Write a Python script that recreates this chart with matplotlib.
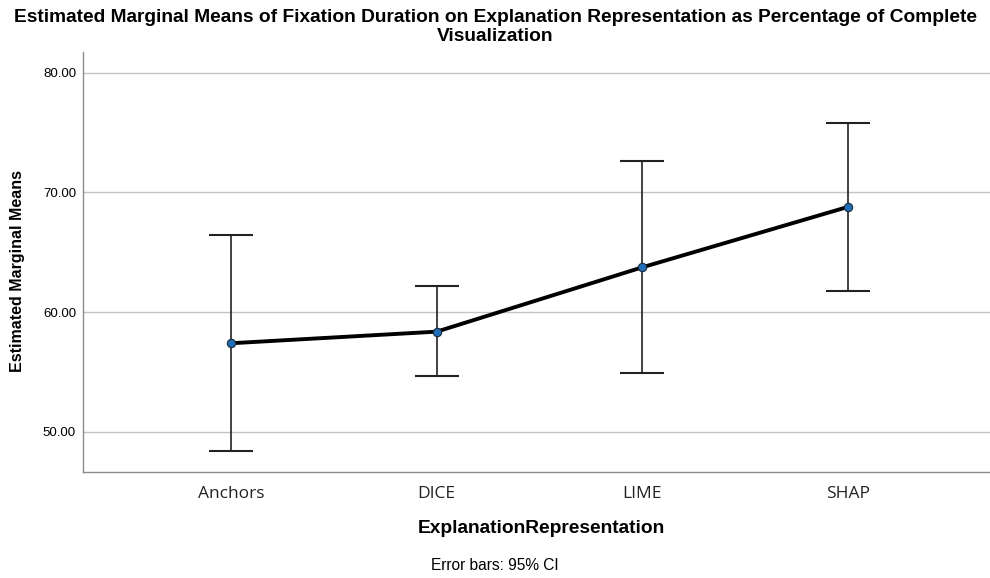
import numpy as np
import matplotlib
matplotlib.use("Agg")
import matplotlib.pyplot as plt

plt.rcParams['font.family'] = ['Liberation Sans', 'DejaVu Sans']

# Estimated marginal means with 95% CI bounds
groups = ['Anchors', 'DICE', 'LIME', 'SHAP']
means = [57.39, 58.36, 63.74, 68.79]
ci_low = [48.42, 54.66, 54.94, 61.74]
ci_high = [66.42, 62.16, 72.60, 75.82]

means = np.array(means)
err = np.vstack([means - np.array(ci_low), np.array(ci_high) - means])
x = np.arange(len(groups))

fig = plt.figure(figsize=(9.9, 5.78), dpi=100)
ax = fig.add_axes([0.0838, 0.1834, 0.9162, 0.7266])

ax.errorbar(x, means, yerr=err, fmt='none', ecolor='#222222', elinewidth=1.2,
            capsize=16, capthick=1.5, zorder=3)
ax.plot(x, means, color='black', linewidth=2.8, zorder=4)
ax.plot(x, means, 'o', markersize=6, markerfacecolor='#1f6fb8',
        markeredgecolor='#1a2a3a', markeredgewidth=0.8, zorder=5)

ax.set_xlim(-0.72, 3.69)
ax.set_ylim(46.63, 81.73)
ax.set_yticks([50, 60, 70, 80])
ax.set_yticklabels([f'{v:.2f}' for v in [50, 60, 70, 80]], fontsize=9.5)
ax.set_xticks(x)
ax.set_xticklabels(groups, fontsize=12.5, color='#222222',
                   family=['Open Sans', 'DejaVu Sans'])
ax.tick_params(axis='both', length=0)
ax.tick_params(axis='y', pad=5)
ax.tick_params(axis='x', pad=10)

ax.grid(axis='y', color='#c4c4c4', linewidth=1.0)
ax.set_axisbelow(True)
for side in ['top', 'right']:
    ax.spines[side].set_visible(False)
for side in ['left', 'bottom']:
    ax.spines[side].set_color('#8c8c8c')
    ax.spines[side].set_linewidth(1.0)

ax.set_ylabel('Estimated Marginal Means', fontsize=11.5, fontweight='bold')
ax.yaxis.set_label_coords(-0.064, 0.478)
ax.set_xlabel('ExplanationRepresentation', fontsize=13.8, fontweight='bold',
              labelpad=13)
ax.xaxis.label.set_x(0.505)

fig.text(0.5, 0.985,
         'Estimated Marginal Means of Fixation Duration on Explanation Representation as Percentage of Complete\nVisualization',
         ha='center', va='top', fontsize=13.8, fontweight='bold', linespacing=1.18)
fig.text(0.5, 0.022, 'Error bars: 95% CI', ha='center', va='center', fontsize=11.2)

fig.savefig('out.png', dpi=100)
